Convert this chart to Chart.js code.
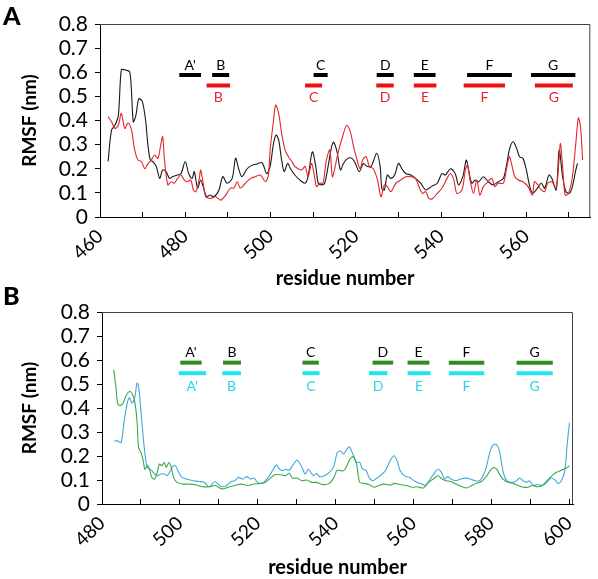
<!DOCTYPE html>
<html><head><meta charset="utf-8">
<script src="https://cdn.jsdelivr.net/npm/chart.js@4.4.1/dist/chart.umd.min.js"></script>
<style>
html,body{margin:0;padding:0;background:#fff;}
#wrap{position:relative;width:598px;height:579px;overflow:hidden;background:#fff;}
canvas{position:absolute;left:0;}
#cA{top:0}#cB{top:290px}
.pl{position:absolute;font-family:Lato,'Open Sans',sans-serif;font-weight:900;font-size:25px;color:#000;line-height:1;}
</style></head><body>
<div id="wrap">
<canvas id="cA" width="598" height="290"></canvas>
<canvas id="cB" width="598" height="289"></canvas>
<div class="pl" style="left:3px;top:3px">A</div>
<div class="pl" style="left:3px;top:283px">B</div>
</div>
<script>
// ---------- data ----------
const segLabels = ["A'","B","C","D","E","F","G"];
// panel A: secondary structure segments (residue start, end)
const segA_black = [[478.6,483.7],[486.3,490.3],[510.1,513.4],[524.9,528.9],[533.6,538.7],[546.1,556.6],[561.1,571.5]];
const segA_red   = [null,[485.0,490.5],[508.1,512.1],[524.8,528.9],[533.6,538.9],[545.3,555.0],[562.0,570.9]];
// panel B
const segB_green = [[500.1,505.6],[511.1,515.7],[531.5,535.7],[549.5,554.8],[558.5,564.1],[569.1,578.2],[586.5,595.8]];
const segB_cyan  = [[499.7,506.7],[510.9,515.7],[531.5,535.9],[548.6,553.3],[558.5,564.4],[569.1,578.2],[586.5,595.8]];
const segLevelUpper = 0.589;
const segLevelLower = 0.545;

// panel A RMSF traces [residue, RMSF nm]
const rmsfA_black = [[461.9,0.23],[462.7,0.36],[463.5,0.38],[464.3,0.42],[465.0,0.61],[465.8,0.61],[467.0,0.60],[467.8,0.395],[468.4,0.42],[469.1,0.49],[469.9,0.48],[470.7,0.40],[471.2,0.305],[471.8,0.236],[472.4,0.23],[473.2,0.21],[474.0,0.16],[474.7,0.195],[475.5,0.188],[476.3,0.16],[477.0,0.167],[478.2,0.174],[479.0,0.18],[480.0,0.23],[480.8,0.18],[481.6,0.16],[482.1,0.188],[482.9,0.12],[483.6,0.153],[484.2,0.126],[485.0,0.084],[485.8,0.091],[486.7,0.084],[487.9,0.112],[488.8,0.167],[489.8,0.14],[491.0,0.16],[491.8,0.243],[492.6,0.195],[493.3,0.167],[494.5,0.2],[495.7,0.215],[496.8,0.22],[498.0,0.225],[499.1,0.18],[499.9,0.21],[500.7,0.305],[501.3,0.34],[501.9,0.32],[502.6,0.236],[503.2,0.188],[504.0,0.222],[504.7,0.2],[505.7,0.174],[506.9,0.153],[508.1,0.14],[508.8,0.167],[509.8,0.27],[510.6,0.21],[511.2,0.14],[512.0,0.133],[512.7,0.14],[513.5,0.21],[514.3,0.29],[514.8,0.31],[515.6,0.27],[516.4,0.195],[517.1,0.222],[518.1,0.243],[519.1,0.243],[519.9,0.222],[520.8,0.188],[521.8,0.222],[522.6,0.21],[523.6,0.21],[524.9,0.264],[525.7,0.21],[526.1,0.119],[526.7,0.112],[527.4,0.174],[528.2,0.16],[529.1,0.174],[530.0,0.222],[530.8,0.2],[531.7,0.18],[532.9,0.174],[534.0,0.16],[535.2,0.14],[536.4,0.112],[537.7,0.126],[539.1,0.14],[540.2,0.18],[541.0,0.174],[542.2,0.2],[543.3,0.18],[544.1,0.133],[545.1,0.167],[545.9,0.236],[546.4,0.2],[547.2,0.14],[548.0,0.153],[548.8,0.146],[549.9,0.167],[551.1,0.146],[552.2,0.133],[553.4,0.146],[554.6,0.16],[555.3,0.21],[556.1,0.285],[556.9,0.312],[557.7,0.285],[558.4,0.25],[559.2,0.243],[560.0,0.195],[560.8,0.126],[561.5,0.098],[562.3,0.112],[563.5,0.14],[564.3,0.119],[565.3,0.174],[566.0,0.16],[567.0,0.112],[567.7,0.278],[568.5,0.167],[569.3,0.105],[570.1,0.098],[570.8,0.126],[571.6,0.195],[572.0,0.222]];
const rmsfA_red = [[461.9,0.416],[462.7,0.395],[463.5,0.367],[464.3,0.38],[465.0,0.43],[465.8,0.367],[466.6,0.39],[467.4,0.36],[468.1,0.28],[468.9,0.236],[469.7,0.23],[470.5,0.2],[471.2,0.22],[472.0,0.236],[472.8,0.257],[473.6,0.243],[474.3,0.305],[474.7,0.333],[475.1,0.243],[475.9,0.133],[476.7,0.146],[477.4,0.14],[478.2,0.16],[479.0,0.174],[479.8,0.153],[480.5,0.146],[481.3,0.153],[481.9,0.112],[482.5,0.105],[483.3,0.16],[483.6,0.195],[484.2,0.14],[484.8,0.084],[486.0,0.077],[487.1,0.084],[488.3,0.07],[489.5,0.091],[490.6,0.12],[491.4,0.12],[492.2,0.146],[492.9,0.12],[494.1,0.14],[495.3,0.16],[496.4,0.167],[497.6,0.174],[498.8,0.146],[499.5,0.174],[499.9,0.278],[500.7,0.40],[501.2,0.464],[501.9,0.43],[502.6,0.347],[503.4,0.278],[504.2,0.25],[505.0,0.23],[505.7,0.21],[506.5,0.2],[507.3,0.195],[508.1,0.21],[508.8,0.167],[509.6,0.222],[510.2,0.18],[510.8,0.126],[511.6,0.14],[512.3,0.14],[513.1,0.236],[513.9,0.278],[514.5,0.167],[515.0,0.195],[515.8,0.264],[517.0,0.34],[517.9,0.38],[518.7,0.354],[519.5,0.29],[520.2,0.243],[521.0,0.2],[521.6,0.236],[522.4,0.25],[523.2,0.21],[524.1,0.2],[525.1,0.153],[525.9,0.084],[526.7,0.133],[527.4,0.126],[528.2,0.105],[529.4,0.14],[530.5,0.153],[531.7,0.167],[532.9,0.167],[534.0,0.16],[534.8,0.126],[535.6,0.098],[536.4,0.105],[537.1,0.077],[537.9,0.075],[539.1,0.098],[540.2,0.119],[541.4,0.16],[542.2,0.18],[543.0,0.153],[543.7,0.098],[544.9,0.112],[545.7,0.195],[546.2,0.215],[546.8,0.153],[547.6,0.098],[548.4,0.153],[549.1,0.091],[549.9,0.126],[550.7,0.14],[551.9,0.16],[552.6,0.126],[553.4,0.14],[554.6,0.14],[555.3,0.195],[556.0,0.25],[556.5,0.222],[557.3,0.167],[558.1,0.153],[559.2,0.146],[560.4,0.126],[561.4,0.091],[561.9,0.146],[562.7,0.133],[563.5,0.112],[564.3,0.105],[565.0,0.14],[566.0,0.146],[567.0,0.119],[567.6,0.222],[568.0,0.305],[568.5,0.21],[569.1,0.091],[569.9,0.098],[570.8,0.167],[571.6,0.305],[572.2,0.41],[572.7,0.375],[573.2,0.236]];

// panel B RMSF traces
const rmsfB_green = [[483.0,0.56],[483.6,0.483],[484.0,0.42],[484.6,0.41],[485.4,0.42],[486.3,0.455],[487.1,0.47],[487.7,0.46],[488.4,0.428],[489.0,0.345],[489.4,0.235],[490.0,0.215],[490.6,0.18],[491.0,0.145],[491.7,0.16],[492.3,0.139],[492.8,0.11],[493.5,0.104],[494.2,0.132],[494.7,0.166],[495.4,0.16],[496.0,0.173],[496.5,0.152],[497.2,0.173],[497.8,0.152],[498.4,0.11],[499.3,0.09],[500.9,0.083],[502.6,0.083],[504.2,0.079],[505.8,0.072],[507.5,0.072],[509.1,0.077],[510.8,0.063],[512.4,0.07],[514.1,0.077],[515.7,0.083],[517.4,0.077],[519.0,0.083],[520.3,0.085],[521.9,0.09],[523.5,0.111],[524.4,0.122],[526.0,0.122],[527.2,0.118],[528.1,0.128],[528.9,0.108],[530.1,0.108],[531.4,0.097],[532.6,0.1],[533.8,0.09],[535.1,0.09],[536.7,0.081],[538.4,0.086],[539.6,0.111],[540.4,0.141],[541.2,0.139],[542.1,0.139],[542.9,0.159],[543.7,0.187],[544.5,0.197],[545.4,0.166],[546.2,0.09],[547.4,0.086],[548.6,0.081],[549.9,0.07],[551.1,0.077],[552.4,0.083],[554.0,0.079],[555.2,0.086],[556.5,0.081],[558.1,0.077],[559.8,0.07],[561.0,0.072],[562.6,0.067],[563.9,0.09],[565.1,0.104],[566.3,0.118],[567.4,0.104],[568.4,0.097],[569.6,0.094],[570.9,0.083],[572.5,0.072],[573.7,0.067],[575.0,0.077],[576.2,0.086],[577.5,0.094],[578.7,0.114],[579.8,0.141],[580.6,0.152],[581.4,0.145],[582.2,0.122],[583.0,0.104],[584.4,0.09],[585.7,0.086],[586.9,0.077],[588.2,0.07],[589.4,0.07],[590.6,0.077],[591.9,0.072],[593.1,0.077],[594.3,0.097],[595.6,0.118],[596.8,0.132],[598.0,0.141],[599.3,0.15],[600.1,0.159]];
const rmsfB_cyan = [[483.2,0.263],[484.0,0.263],[484.9,0.256],[485.7,0.345],[486.5,0.421],[487.1,0.442],[487.7,0.421],[488.4,0.442],[489.0,0.504],[489.4,0.49],[490.0,0.387],[490.6,0.277],[491.2,0.187],[491.7,0.152],[492.3,0.145],[492.8,0.139],[493.5,0.125],[494.3,0.118],[495.1,0.125],[496.0,0.125],[496.8,0.118],[497.6,0.139],[498.3,0.159],[498.9,0.159],[499.7,0.132],[500.5,0.111],[501.7,0.104],[503.4,0.097],[505.0,0.094],[506.3,0.09],[507.5,0.072],[508.3,0.083],[509.0,0.094],[509.8,0.083],[510.8,0.072],[512.0,0.077],[513.3,0.094],[514.1,0.097],[515.1,0.111],[516.1,0.104],[517.2,0.114],[518.2,0.104],[519.0,0.108],[520.0,0.09],[521.1,0.085],[522.7,0.111],[524.0,0.145],[524.8,0.163],[525.6,0.145],[526.4,0.139],[527.2,0.145],[528.1,0.141],[528.9,0.159],[530.0,0.183],[530.5,0.177],[531.4,0.152],[532.2,0.125],[533.0,0.145],[533.6,0.132],[534.4,0.118],[535.1,0.128],[535.9,0.114],[537.1,0.118],[538.4,0.132],[539.6,0.159],[540.4,0.214],[541.2,0.221],[542.1,0.208],[542.9,0.228],[543.5,0.238],[544.1,0.221],[544.8,0.194],[545.4,0.173],[546.2,0.173],[547.0,0.145],[547.8,0.141],[548.6,0.111],[549.5,0.097],[550.3,0.104],[551.5,0.118],[552.8,0.139],[554.0,0.18],[555.0,0.201],[555.8,0.18],[556.6,0.139],[557.7,0.118],[558.9,0.111],[560.2,0.097],[561.0,0.09],[562.2,0.083],[563.0,0.077],[564.3,0.104],[565.5,0.132],[566.3,0.145],[567.2,0.132],[568.0,0.104],[568.8,0.114],[569.6,0.104],[570.9,0.097],[572.1,0.104],[573.3,0.108],[574.6,0.104],[575.8,0.097],[577.0,0.097],[577.9,0.118],[578.7,0.152],[579.5,0.207],[580.3,0.242],[581.2,0.249],[582.0,0.228],[582.6,0.173],[583.2,0.125],[584.0,0.097],[585.3,0.09],[586.5,0.097],[587.3,0.108],[588.2,0.097],[589.0,0.09],[589.8,0.097],[590.8,0.077],[591.9,0.081],[593.1,0.077],[594.3,0.09],[595.4,0.108],[596.4,0.1],[597.2,0.086],[598.0,0.097],[598.9,0.139],[599.5,0.249],[600.1,0.339]];

// ---------- drawing ----------
const FONT = "Lato, 'Open Sans', sans-serif";

function segPlugin(groups) {
  return {
    id: 'segLabels',
    afterDatasetsDraw(chart) {
      const {ctx, scales:{x, y}} = chart;
      ctx.save();
      ctx.font = "14px " + FONT;
      ctx.textAlign = 'center';
      ctx.textBaseline = 'middle';
      groups.forEach(g => {
        g.list.forEach((r, i) => {
          if (!r) return;
          const px = x.getPixelForValue((r[0] + r[1]) / 2);
          const py = y.getPixelForValue(g.level) + g.dy;
          ctx.fillStyle = g.textColor;
          ctx.fillText(segLabels[i], px, py);
        });
      });
      ctx.restore();
    },
    afterDraw(chart) {
      const {ctx, chartArea:a} = chart;
      ctx.save();
      ctx.strokeStyle = '#444';
      ctx.lineWidth = 1;
      ctx.beginPath();
      ctx.moveTo(a.left, a.top + 0.5);
      ctx.lineTo(a.right - 0.5, a.top + 0.5);
      ctx.lineTo(a.right - 0.5, a.bottom);
      ctx.stroke();
      ctx.restore();
    }
  };
}

function makeChart(id, p) {
  const datasets = [];
  p.series.forEach(s => datasets.push({
    data: s.pts.map(([x, y]) => ({x, y})),
    borderColor: s.color, borderWidth: 1.1, pointRadius: 0, tension: 0.3, order: 2
  }));
  p.groups.forEach(g => g.list.forEach(r => {
    if (!r) return;
    datasets.push({
      data: [{x: r[0], y: g.level}, {x: r[1], y: g.level}],
      borderColor: g.color, borderWidth: 4, pointRadius: 0, borderCapStyle: 'butt', order: 1
    });
  }));
  return new Chart(document.getElementById(id), {
    type: 'line',
    data: {datasets},
    options: {
      responsive: false, animation: false, devicePixelRatio: 1,
      layout: {padding: {top: p.top, right: p.right, left: 0, bottom: 0}},
      plugins: {legend: {display: false}, tooltip: {enabled: false}},
      scales: {
        x: {
          type: 'linear', min: p.xmin, max: p.xmax,
          afterFit: s => { s.height = p.xh; },
          ticks: {stepSize: 10, includeBounds: false, autoSkip: false, minRotation: 44, maxRotation: 44,
                  padding: 13, color: '#000', font: {family: FONT, size: 19},
                  callback: v => (Math.round(v) % 20 === 0 ? String(Math.round(v)) : '')},
          grid: {drawOnChartArea: false, tickLength: -5, color: '#000'},
          border: {color: '#000', width: 1},
          title: {display: true, text: 'residue number', color: '#000',
                  font: {family: FONT, size: 20, weight: 'bold', lineHeight: 1}, padding: {top: 0, bottom: p.tb}}
        },
        y: {
          min: 0, max: 0.8,
          afterFit: s => { s.width = p.yw; },
          ticks: {stepSize: 0.1, autoSkip: false, padding: 7, color: '#000', font: {family: FONT, size: 21},
                  callback: v => (Math.abs(v) < 1e-9 ? '0' : v.toFixed(1))},
          grid: {drawOnChartArea: false, tickLength: 5, color: '#000'},
          border: {color: '#000', width: 1},
          title: {display: true, text: 'RMSF (nm)', color: '#000',
                  font: {family: FONT, size: 19, weight: 'bold', lineHeight: 1}, padding: {top: 20, bottom: 0}}
        }
      }
    },
    plugins: [segPlugin(p.groups)]
  });
}

makeChart('cA', {
  top: 24, right: 4, xh: 73, yw: 100, tb: 1, xmin: 460, xmax: 575,
  series: [{pts: rmsfA_red, color: '#e3262b'}, {pts: rmsfA_black, color: '#1a1a1a'}],
  groups: [
    {list: segA_black, level: segLevelUpper, color: '#000000', textColor: '#000000', dy: -9},
    {list: segA_red, level: segLevelLower, color: '#ee1111', textColor: '#e3262b', dy: 12}
  ]
});

makeChart('cB', {
  top: 22, right: 5, xh: 75, yw: 102, tb: 1, xmin: 480, xmax: 601,
  series: [{pts: rmsfB_green, color: '#3caa48'}, {pts: rmsfB_cyan, color: '#42a8dc'}],
  groups: [
    {list: segB_green, level: segLevelUpper, color: '#2f8c1f', textColor: '#000000', dy: -10},
    {list: segB_cyan, level: segLevelLower, color: '#20e4f0', textColor: '#22d6ea', dy: 13}
  ]
});
</script>
</body></html>
